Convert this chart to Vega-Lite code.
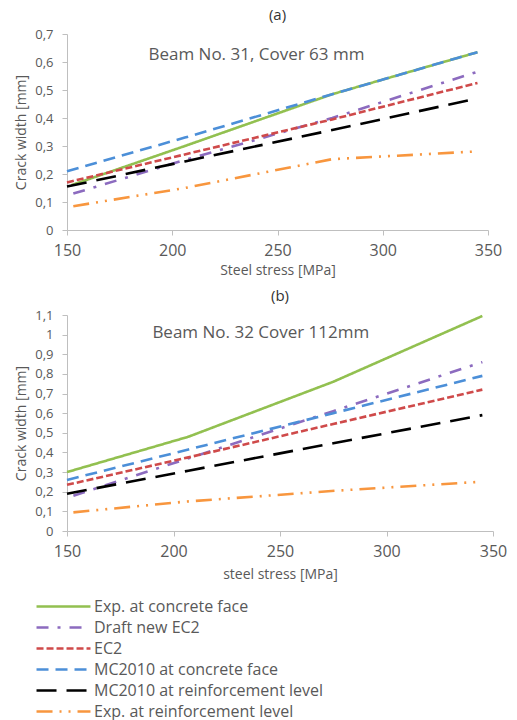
{
  "$schema": "https://vega.github.io/schema/vega-lite/v6.json",
  "padding": {"left": 14, "top": 8, "right": 10, "bottom": 5},
  "background": "white",
  "config": {
    "view": {"stroke": null},
    "font": "Open Sans",
    "axis": {
      "grid": false,
      "domainColor": "#BFBFBF",
      "tickColor": "#BFBFBF",
      "tickSize": 5,
      "labelColor": "#595959",
      "titleColor": "#595959",
      "labelFont": "Open Sans",
      "titleFont": "Open Sans",
      "titleFontWeight": "normal",
      "labelOverlap": false,
      "labelFlush": false
    },
    "axisX": {"labelFontSize": 16, "titleFontSize": 14, "labelPadding": 7, "tickCount": 20},
    "axisY": {"labelFontSize": 13, "titleFontSize": 14, "labelPadding": 9, "titlePadding": 6, "tickCount": 20},
    "title": {"fontSize": 15, "fontWeight": "normal", "color": "#333333", "font": "Open Sans"},
    "line": {"strokeWidth": 2.6},
    "legend": {
      "symbolType": "M-4,0H4",
      "symbolSize": 182,
      "symbolStrokeWidth": 3,
      "labelFontSize": 16,
      "labelColor": "#595959",
      "labelFont": "Open Sans",
      "labelLimit": 400,
      "rowPadding": 4,
      "labelOffset": 22
    }
  },
  "datasets": {
    "a": [
      {"series": "Exp. at concrete face", "stress": 152, "w": 0.16},
      {"series": "Exp. at concrete face", "stress": 206, "w": 0.30},
      {"series": "Exp. at concrete face", "stress": 276, "w": 0.485},
      {"series": "Exp. at concrete face", "stress": 345, "w": 0.635},
      {"series": "Draft new EC2", "stress": 153, "w": 0.13},
      {"series": "Draft new EC2", "stress": 206, "w": 0.25},
      {"series": "Draft new EC2", "stress": 276, "w": 0.40},
      {"series": "Draft new EC2", "stress": 345, "w": 0.565},
      {"series": "EC2", "stress": 150, "w": 0.17},
      {"series": "EC2", "stress": 206, "w": 0.27},
      {"series": "EC2", "stress": 276, "w": 0.395},
      {"series": "EC2", "stress": 345, "w": 0.525},
      {"series": "MC2010 at concrete face", "stress": 150, "w": 0.21},
      {"series": "MC2010 at concrete face", "stress": 206, "w": 0.33},
      {"series": "MC2010 at concrete face", "stress": 276, "w": 0.485},
      {"series": "MC2010 at concrete face", "stress": 345, "w": 0.635},
      {"series": "MC2010 at reinforcement level", "stress": 150, "w": 0.155},
      {"series": "MC2010 at reinforcement level", "stress": 206, "w": 0.245},
      {"series": "MC2010 at reinforcement level", "stress": 276, "w": 0.357},
      {"series": "MC2010 at reinforcement level", "stress": 345, "w": 0.47},
      {"series": "Exp. at reinforcement level", "stress": 153, "w": 0.085},
      {"series": "Exp. at reinforcement level", "stress": 206, "w": 0.15},
      {"series": "Exp. at reinforcement level", "stress": 276, "w": 0.253},
      {"series": "Exp. at reinforcement level", "stress": 343, "w": 0.28}
    ],
    "b": [
      {"series": "Exp. at concrete face", "stress": 150, "w": 0.30},
      {"series": "Exp. at concrete face", "stress": 207, "w": 0.48},
      {"series": "Exp. at concrete face", "stress": 275, "w": 0.76},
      {"series": "Exp. at concrete face", "stress": 345, "w": 1.095},
      {"series": "Draft new EC2", "stress": 153, "w": 0.18},
      {"series": "Draft new EC2", "stress": 207, "w": 0.37},
      {"series": "Draft new EC2", "stress": 275, "w": 0.61},
      {"series": "Draft new EC2", "stress": 345, "w": 0.86},
      {"series": "EC2", "stress": 150, "w": 0.235},
      {"series": "EC2", "stress": 207, "w": 0.375},
      {"series": "EC2", "stress": 275, "w": 0.545},
      {"series": "EC2", "stress": 345, "w": 0.72},
      {"series": "MC2010 at concrete face", "stress": 150, "w": 0.26},
      {"series": "MC2010 at concrete face", "stress": 207, "w": 0.415},
      {"series": "MC2010 at concrete face", "stress": 275, "w": 0.60},
      {"series": "MC2010 at concrete face", "stress": 345, "w": 0.79},
      {"series": "MC2010 at reinforcement level", "stress": 150, "w": 0.19},
      {"series": "MC2010 at reinforcement level", "stress": 207, "w": 0.307},
      {"series": "MC2010 at reinforcement level", "stress": 275, "w": 0.447},
      {"series": "MC2010 at reinforcement level", "stress": 345, "w": 0.59},
      {"series": "Exp. at reinforcement level", "stress": 153, "w": 0.095},
      {"series": "Exp. at reinforcement level", "stress": 206, "w": 0.15},
      {"series": "Exp. at reinforcement level", "stress": 276, "w": 0.205},
      {"series": "Exp. at reinforcement level", "stress": 343, "w": 0.25}
    ]
  },
  "vconcat": [
    {
      "title": {"text": "(a)", "offset": 5},
      "width": 421,
      "height": 196,
      "layer": [
        {
          "data": {"name": "a"},
          "mark": {"type": "line"},
          "encoding": {
            "x": {"field": "stress", "type": "quantitative", "scale": {"domain": [150, 350], "nice": false}, "axis": {"values": [150, 200, 250, 300, 350], "title": "Steel stress [MPa]", "titlePadding": 5}},
            "y": {"field": "w", "type": "quantitative", "scale": {"domain": [0, 0.7], "nice": false}, "axis": {"values": [0, 0.1, 0.2, 0.3, 0.4, 0.5, 0.6, 0.7], "labelExpr": "replace(format(datum.value, '~g'), '.', ',')", "title": "Crack width [mm]"}},
            "color": {"field": "series", "type": "nominal", "title": null,
              "scale": {"domain": ["Exp. at concrete face", "Draft new EC2", "EC2", "MC2010 at concrete face", "MC2010 at reinforcement level", "Exp. at reinforcement level"],
                        "range": ["#92C050", "#8C6BBF", "#CF4A4A", "#4C8FD8", "#000000", "#F8963E"]},
              "legend": {"orient": "none", "legendX": -12, "legendY": 564, "direction": "vertical"}},
            "strokeDash": {"field": "series", "type": "nominal", "title": null,
              "scale": {"domain": ["Exp. at concrete face", "Draft new EC2", "EC2", "MC2010 at concrete face", "MC2010 at reinforcement level", "Exp. at reinforcement level"],
                        "range": [[1, 0], [12, 9, 3, 9], [7, 3], [12, 7], [20, 10], [16, 7, 2, 7, 2, 7]]}}
          }
        },
        {
          "data": {"values": [{"label": "Beam No. 31, Cover 63 mm"}]},
          "mark": {"type": "text", "fontSize": 17, "color": "#595959", "font": "Open Sans"},
          "encoding": {
            "x": {"datum": 240},
            "y": {"datum": 0.625},
            "text": {"field": "label"}
          }
        }
      ]
    },
    {
      "title": {"text": "(b)", "offset": 5},
      "width": 426,
      "height": 216,
      "layer": [
        {
          "data": {"name": "b"},
          "mark": {"type": "line"},
          "encoding": {
            "x": {"field": "stress", "type": "quantitative", "scale": {"domain": [150, 350], "nice": false}, "axis": {"values": [150, 200, 250, 300, 350], "title": "steel stress [MPa]", "titlePadding": 8}},
            "y": {"field": "w", "type": "quantitative", "scale": {"domain": [0, 1.1], "nice": false}, "axis": {"values": [0, 0.1, 0.2, 0.3, 0.4, 0.5, 0.6, 0.7, 0.8, 0.9, 1, 1.1], "labelExpr": "replace(format(datum.value, '~g'), '.', ',')", "title": "Crack width [mm]"}},
            "color": {"field": "series", "type": "nominal"},
            "strokeDash": {"field": "series", "type": "nominal"}
          }
        },
        {
          "data": {"values": [{"label": "Beam No. 32 Cover 112mm"}]},
          "mark": {"type": "text", "fontSize": 17, "color": "#595959", "font": "Open Sans"},
          "encoding": {
            "x": {"datum": 241},
            "y": {"datum": 1.008},
            "text": {"field": "label"}
          }
        }
      ]
    }
  ],
  "spacing": 12
}
